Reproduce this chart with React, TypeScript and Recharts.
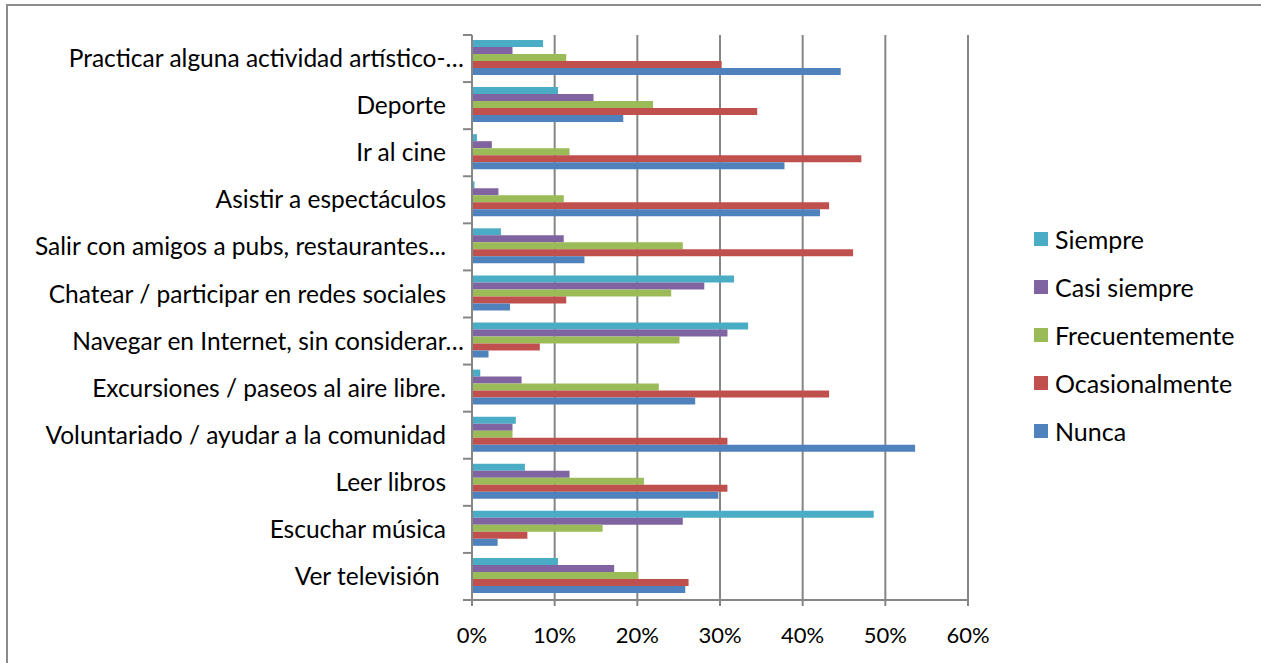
import React from "react";
import { BarChart, Bar, XAxis, YAxis, CartesianGrid, Legend } from "recharts";

// categories, top to bottom as they appear in the chart
const categories = [
  "Practicar alguna actividad artístico-…",
  "Deporte",
  "Ir al cine",
  "Asistir a espectáculos",
  "Salir con amigos a pubs, restaurantes...",
  "Chatear / participar en redes sociales",
  "Navegar en Internet, sin considerar…",
  "Excursiones / paseos al aire libre.",
  "Voluntariado / ayudar a la comunidad",
  "Leer libros",
  "Escuchar música",
  "Ver televisión ",
];

// percentages, same order as categories
const siempre = [8.6, 10.4, 0.6, 0.3, 3.5, 31.7, 33.4, 1.0, 5.3, 6.4, 48.6, 10.4];
const casiSiempre = [4.9, 14.7, 2.4, 3.2, 11.1, 28.1, 30.9, 6.0, 4.9, 11.8, 25.5, 17.2];
const frecuentemente = [11.4, 21.9, 11.8, 11.1, 25.5, 24.1, 25.1, 22.6, 4.9, 20.8, 15.8, 20.1];
const ocasionalmente = [30.2, 34.5, 47.1, 43.2, 46.1, 11.4, 8.2, 43.2, 30.9, 30.9, 6.7, 26.2];
const nunca = [44.6, 18.3, 37.8, 42.1, 13.6, 4.6, 2.0, 27.0, 53.6, 29.8, 3.1, 25.8];

const xTicks = [0, 10, 20, 30, 40, 50, 60];

const series = [
  { key: "siempre", name: "Siempre", color: "#4BACC6" },
  { key: "casiSiempre", name: "Casi siempre", color: "#8064A2" },
  { key: "frecuentemente", name: "Frecuentemente", color: "#9BBB59" },
  { key: "ocasionalmente", name: "Ocasionalmente", color: "#C0504D" },
  { key: "nunca", name: "Nunca", color: "#4F81BD" },
];

const data = categories.map((name, i) => ({
  name,
  siempre: siempre[i],
  casiSiempre: casiSiempre[i],
  frecuentemente: frecuentemente[i],
  ocasionalmente: ocasionalmente[i],
  nunca: nunca[i],
}));

const W = 1261;
const H = 663;
const PLOT_TOP = 35;
const PLOT_BOTTOM = 600;
const AXIS_X = 472;
const BAND = (PLOT_BOTTOM - PLOT_TOP) / categories.length;
const GRAY = "#868686";
const FONT = "Lato, 'Open Sans', sans-serif";

// label + the small tick marks that sit on category boundaries
const CategoryTick = (props: any) => {
  const { y, payload, index } = props;
  const label: string = payload.value;
  const cut = label.endsWith("…");
  return (
    <g>
      <line x1={AXIS_X - 9} x2={AXIS_X} y1={y - BAND / 2} y2={y - BAND / 2} stroke={GRAY} strokeWidth={2} />
      {index === categories.length - 1 && (
        <line x1={AXIS_X - 9} x2={AXIS_X} y1={y + BAND / 2} y2={y + BAND / 2} stroke={GRAY} strokeWidth={2} />
      )}
      <text
        x={cut ? AXIS_X - 8 : AXIS_X - 26}
        y={y}
        dy="0.35em"
        textAnchor="end"
        fill="#000"
        fontSize={24.5}
        fontFamily={FONT}
        style={{ whiteSpace: "pre" }}
      >
        {label}
      </text>
    </g>
  );
};

const LegendBox = () => (
  <div style={{ fontFamily: FONT, fontSize: 25, color: "#000" }}>
    {series.map((s) => (
      <div key={s.key} style={{ display: "flex", alignItems: "center", height: 48 }}>
        <span style={{ width: 14, height: 14, background: s.color, marginRight: 7, display: "inline-block" }} />
        {s.name}
      </div>
    ))}
  </div>
);

export default function App() {
  return (
    <div style={{ position: "fixed", left: 0, top: 0, width: W, height: H, overflow: "hidden", background: "#fff" }}>
      {/* chart frame, only its top and left edges are inside the picture */}
      <div
        style={{
          position: "absolute",
          left: 6,
          top: 4,
          width: W + 40,
          height: H + 40,
          boxSizing: "border-box",
          borderTop: "2px solid #8c8c8c",
          borderLeft: "2px solid #8c8c8c",
        }}
      />
      <div style={{ position: "absolute", left: 0, top: 0 }}>
        <BarChart
          width={W}
          height={H}
          data={data}
          layout="vertical"
          margin={{ top: PLOT_TOP, right: 63, bottom: 0, left: 0 }}
          barCategoryGap={5}
          barGap={0}
        >
          <CartesianGrid horizontal={false} stroke={GRAY} strokeWidth={2} />
          <XAxis
            type="number"
            domain={[0, 60]}
            ticks={xTicks}
            tickFormatter={(v) => `${v}%`}
            height={H - PLOT_BOTTOM}
            axisLine={{ stroke: GRAY, strokeWidth: 2 }}
            tickLine={{ stroke: GRAY, strokeWidth: 2 }}
            tickSize={6}
            tickMargin={21}
            tick={{ fill: "#000", fontSize: 22, fontFamily: FONT }}
            interval={0}
          />
          <YAxis
            type="category"
            dataKey="name"
            width={AXIS_X}
            axisLine={{ stroke: GRAY, strokeWidth: 2 }}
            tickLine={false}
            tick={<CategoryTick />}
            interval={0}
          />
          <Legend
            layout="vertical"
            align="right"
            verticalAlign="middle"
            content={<LegendBox />}
            wrapperStyle={{ left: 1034, top: 215, width: 230 }}
          />
          {series.map((s) => (
            <Bar key={s.key} dataKey={s.key} name={s.name} fill={s.color} isAnimationActive={false} />
          ))}
        </BarChart>
      </div>
    </div>
  );
}
